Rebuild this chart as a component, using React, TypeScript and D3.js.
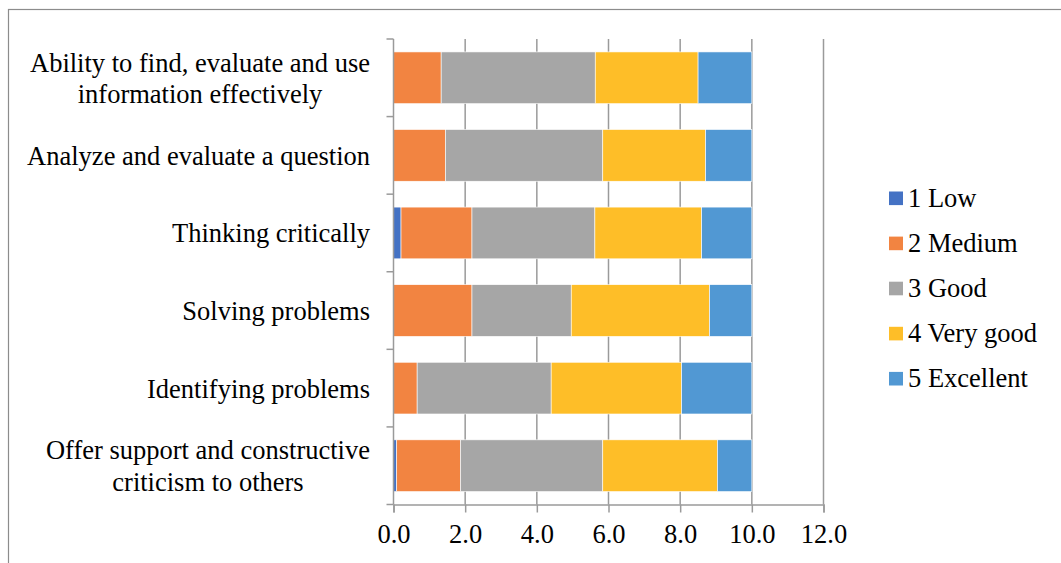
import * as d3 from 'd3';
import React, { useEffect, useRef } from 'react';

// categories listed top to bottom
const categories = [
  ['Ability to find, evaluate and use', 'information effectively'],
  ['Analyze and evaluate a question'],
  ['Thinking critically'],
  ['Solving problems'],
  ['Identifying problems'],
  ['Offer support and constructive', 'criticism to others'],
];

const seriesNames = ['1 Low', '2 Medium', '3 Good', '4 Very good', '5 Excellent'];
const seriesColors = ['#4472C4', '#F28441', '#A6A6A6', '#FEBE28', '#5198D3'];

const low = [0, 0, 0.21, 0, 0, 0.09];
const medium = [1.33, 1.45, 1.98, 2.19, 0.66, 1.78];
const good = [4.3, 4.39, 3.43, 2.77, 3.74, 3.97];
const veryGood = [2.87, 2.87, 2.98, 3.86, 3.64, 3.2];
const excellent = [1.5, 1.29, 1.4, 1.18, 1.96, 0.96];

const xTicks = [0, 2, 4, 6, 8, 10, 12];

const App = () => {
  const ref = useRef(null);

  useEffect(() => {
    if (!ref.current) return;
    const root = d3.select(ref.current);
    root.selectAll('*').remove();

    const font = '"Liberation Serif", "Times New Roman", serif';
    const fontSize = 26.5;

    const svg = root.append('svg')
      .attr('width', 1061)
      .attr('height', 563)
      .style('display', 'block')
      .style('font-family', font);

    // outer chart border (runs off the right and bottom edges)
    svg.append('rect')
      .attr('x', 8.5).attr('y', 9.5)
      .attr('width', 1100).attr('height', 600)
      .attr('fill', '#fff')
      .attr('stroke', '#8c8c8c')
      .attr('stroke-width', 1.2);

    const left = 393.5, right = 823.5, top = 39, bottom = 504.5;

    const x = d3.scaleLinear().domain([0, 12]).range([left, right]);
    const y = d3.scaleBand()
      .domain(categories.map((_, i) => String(i)))
      .range([top, bottom])
      .paddingInner(1 / 3)
      .paddingOuter(1 / 6);

    // vertical gridlines
    svg.append('g')
      .selectAll('line')
      .data(xTicks.slice(1))
      .join('line')
      .attr('x1', d => x(d)).attr('x2', d => x(d))
      .attr('y1', top).attr('y2', bottom)
      .attr('stroke', '#9a9a9a')
      .attr('stroke-width', 1.5);

    // stacked bars
    const rows = categories.map((_, i) => ({
      key: String(i),
      s0: low[i], s1: medium[i], s2: good[i], s3: veryGood[i], s4: excellent[i],
    }));
    const stack = d3.stack().keys(['s0', 's1', 's2', 's3', 's4'])(rows as any);

    svg.append('g')
      .selectAll('g')
      .data(stack)
      .join('g')
      .attr('fill', (_, i) => seriesColors[i])
      .selectAll('rect')
      .data(d => d)
      .join('rect')
      .attr('x', d => x(d[0]))
      .attr('width', d => Math.max(0, x(d[1]) - x(d[0])))
      .attr('y', d => y((d.data as any).key))
      .attr('height', y.bandwidth())
      .attr('stroke', d => (d[1] - d[0] > 0 ? '#ffffff' : 'none'))
      .attr('stroke-width', 0.6);

    // bottom axis
    const xAxis = svg.append('g')
      .attr('transform', `translate(0,${bottom})`)
      .call(d3.axisBottom(x).tickValues(xTicks).tickFormat(d3.format('.1f')).tickSize(8));
    xAxis.select('.domain').attr('stroke', '#9a9a9a').attr('stroke-width', 1.5);
    xAxis.selectAll('.tick line').attr('stroke', '#9a9a9a').attr('stroke-width', 1.5);
    xAxis.selectAll('.tick text')
      .attr('y', 38.5)
      .attr('dy', null)
      .attr('font-size', fontSize)
      .attr('font-family', font)
      .attr('fill', '#000');

    // left axis line and category boundary ticks
    svg.append('line')
      .attr('x1', left).attr('x2', left)
      .attr('y1', top).attr('y2', bottom)
      .attr('stroke', '#9a9a9a').attr('stroke-width', 1.5);
    const step = y.step();
    svg.append('g')
      .selectAll('line')
      .data(d3.range(categories.length + 1))
      .join('line')
      .attr('x1', left - 7).attr('x2', left)
      .attr('y1', i => top + i * step).attr('y2', i => top + i * step)
      .attr('stroke', '#9a9a9a').attr('stroke-width', 1.5);

    // category labels: block right-aligned, lines centred on each other
    const lineH = 31.5;
    const labelRight = 370;
    const labels = svg.append('g')
      .selectAll('text')
      .data(categories)
      .join('text')
      .attr('font-size', fontSize)
      .attr('fill', '#000');
    labels.selectAll('tspan')
      .data((d, i) => d.map((line, j) => ({ line, j, n: d.length, i })))
      .join('tspan')
      .attr('y', d => y(String(d.i)) + y.bandwidth() / 2 + 9.5 + (d.j - (d.n - 1) / 2) * lineH)
      .text(d => d.line);
    labels.each(function () {
      const spans = d3.select(this).selectAll('tspan');
      let maxW = 0;
      spans.each(function () {
        maxW = Math.max(maxW, (this as SVGTextContentElement).getComputedTextLength());
      });
      spans.attr('text-anchor', 'middle').attr('x', labelRight - maxW / 2);
    });

    // legend
    const legend = svg.append('g')
      .selectAll('g')
      .data(seriesNames)
      .join('g')
      .attr('transform', (_, i) => `translate(889,${198.3 + i * 45.1})`);
    legend.append('rect')
      .attr('x', 0).attr('y', -6.8)
      .attr('width', 14).attr('height', 13.6)
      .attr('fill', (_, i) => seriesColors[i]);
    legend.append('text')
      .attr('x', 19).attr('y', 8.6)
      .attr('font-size', fontSize)
      .attr('fill', '#000')
      .text(d => d);
  }, []);

  return (
    <div style={{ position: 'fixed', left: 0, top: 0 }}>
      <div ref={ref} />
    </div>
  );
};

export default App;
